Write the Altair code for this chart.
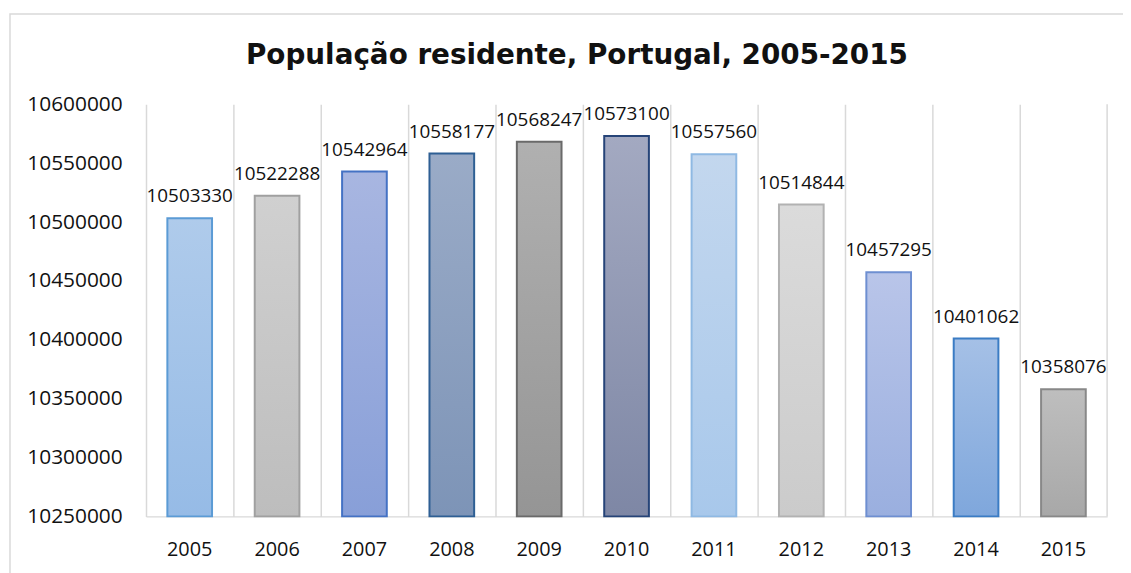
import altair as alt
import pandas as pd

years = ["2005", "2006", "2007", "2008", "2009", "2010", "2011", "2012", "2013", "2014", "2015"]
values = [10503330, 10522288, 10542964, 10558177, 10568247, 10573100, 10557560, 10514844, 10457295, 10401062, 10358076]
y_ticks = [10250000, 10300000, 10350000, 10400000, 10450000, 10500000, 10550000, 10600000]

fill_top = ["#afcbeb", "#d0d0d0", "#a8b6e1", "#9aabc7", "#b0b0b0", "#a3a9c1", "#c3d7ee", "#dbdbdb", "#b9c5e9", "#a5c0e6", "#bebebe"]
fill_bottom = ["#96bbe6", "#bdbdbd", "#889fd8", "#7d94b7", "#959595", "#7e87a5", "#a8c8eb", "#cbcbcb", "#9aafdf", "#7fa7dc", "#a8a8a8"]
strokes = ["#5b9bd5", "#a0a0a0", "#4472c4", "#2e5f94", "#6a6a6a", "#264478", "#8fb9e3", "#b2b2b2", "#6e8fd1", "#3b7cc4", "#888888"]

df = pd.DataFrame({"year": years, "value": values})

W, H = 968, 415
FONT = "Open Sans"

x_enc = alt.X("year:N", sort=years, title=None,
              scale=alt.Scale(paddingInner=0, paddingOuter=0),
              axis=alt.Axis(grid=True, gridColor="#d9d9d9", gridWidth=1.5, bandPosition=0,
                            domainColor="#d9d9d9", domainWidth=1.5, ticks=False,
                            labelAngle=0, labelFont=FONT, labelFontSize=20, labelColor="#111111",
                            labelPadding=23))
y_enc = alt.Y("value:Q", title=None,
              scale=alt.Scale(domain=[y_ticks[0], y_ticks[-1]], nice=False, zero=False),
              axis=alt.Axis(values=y_ticks, grid=False, domain=False, ticks=False,
                            labelFont=FONT, labelFontSize=21, labelColor="#111111",
                            labelPadding=24, format="d"))

base = alt.Chart(df)

frame = base.mark_rect(fill=None, stroke="#d9d9d9", strokeWidth=1.5).encode(
    x=alt.value(-137), x2=alt.value(1400), y=alt.value(-91), y2=alt.value(700)
).transform_filter(alt.datum.year == years[0])

layers = [frame]
for i, yr in enumerate(years):
    grad = alt.Gradient(gradient="linear", x1=0, y1=0, x2=0, y2=1,
                        stops=[alt.GradientStop(color=fill_top[i], offset=0),
                               alt.GradientStop(color=fill_bottom[i], offset=1)])
    layers.append(
        base.mark_bar(width=45, fill=grad, stroke=strokes[i], strokeWidth=2)
        .encode(x=x_enc, y=y_enc, y2=alt.datum(y_ticks[0]))
        .transform_filter(alt.datum.year == yr)
    )

labels = base.mark_text(font=FONT, fontSize=19, color="#111111", baseline="alphabetic", dy=-16).encode(
    x=x_enc, y=y_enc, text=alt.Text("value:Q", format="d")
)
right_rule = base.mark_rule(color="#d9d9d9", strokeWidth=1.5).encode(
    x=alt.value(W), y=alt.value(0), y2=alt.value(H)
).transform_filter(alt.datum.year == years[0])

layers += [labels, right_rule]

chart = alt.layer(*layers).properties(
    width=W, height=H,
    title=alt.TitleParams("População residente, Portugal, 2005-2015", font="DejaVu Sans",
                          fontSize=28, fontWeight="bold", color="#111111", anchor="middle",
                          dx=-50, offset=0, dy=57),
    autosize=alt.AutoSizeParams(type="none"),
    padding={"left": 139, "top": 95, "right": 16, "bottom": 55},
).configure_view(stroke=None)

chart.save("out.html", embed_options={"renderer": "svg", "actions": False})
